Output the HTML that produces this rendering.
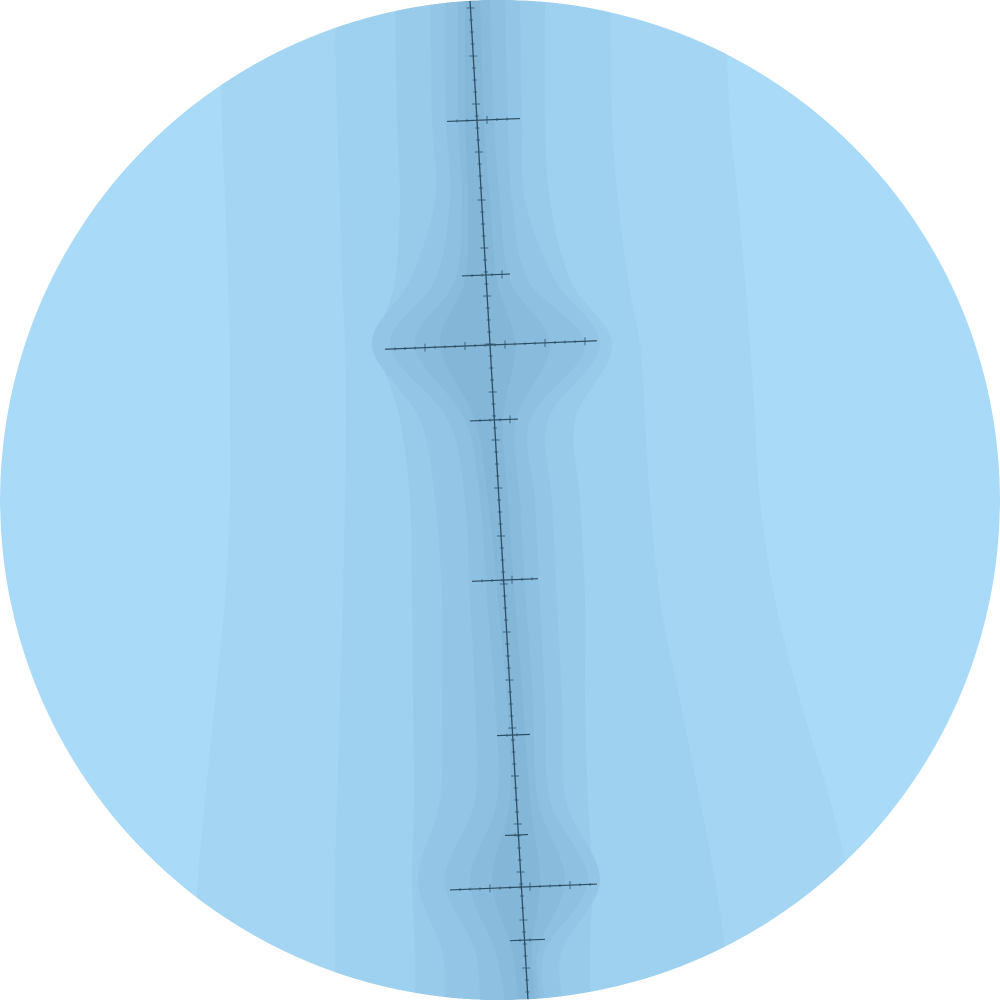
<!DOCTYPE html>
<html><head><meta charset="utf-8"><style>html,body{margin:0;padding:0;background:#fff;width:1000px;height:1000px;overflow:hidden}</style></head>
<body>
<svg id="chart" width="1000" height="1000" viewBox="0 0 1000 1000" xmlns="http://www.w3.org/2000/svg">
<defs><clipPath id="disc"><circle cx="500" cy="500" r="500"/></clipPath></defs>
<g clip-path="url(#disc)" id="bands">
<circle cx="500" cy="500" r="500" fill="#a9daf8"/>
</g>
<g clip-path="url(#disc)" id="spine"></g>
</svg>
<script>
const ys=[0,120,200,280,345,420,500,600,700,800,880,950,1000];
const bandLeft=[
 [220,222,225,228,230,230,230,225,215,205,198,195,195],
 [335,337,340,342,345,346,345,343,340,337,335,335,335],
 [395,397,400,395,380,400,410,412,413,414,412,415,415],
 [430,432,435,410,372,420,435,442,442,440,418,442,445],
 [445,446,450,435,390,448,465,470,475,475,445,475,480],
 [458,458,462,455,415,465,480,487,495,497,470,495,505],
 [465,465,468,465,440,475,488,498,507,510,492,512,518]
];
const bandRight=[
 [725,730,738,745,750,755,760,775,800,830,850,870,880],
 [610,612,618,628,640,645,650,660,680,700,715,725,730],
 [545,545,550,570,612,575,580,585,585,588,592,590,590],
 [520,522,525,555,600,548,552,557,562,566,600,562,562],
 [505,508,512,528,585,530,535,540,545,550,588,545,545],
 [490,494,500,510,550,516,520,526,533,538,565,538,540],
 [480,484,490,497,515,503,508,515,523,530,540,532,535]
];
const bandColor=['#a4d5f3','#9ed0ef','#98cbea','#93c6e6','#8ec1e1','#89bcdc','#84b7d7'];
const crossY=[120,275,345,420,580,735,835,887,940];
const crossL=[447,462,385,470,472,497,505,450,510];
const crossR=[520,510,597,518,538,530,528,597,545];
const NS='http://www.w3.org/2000/svg';
const bands=document.getElementById('bands'), spine=document.getElementById('spine');
function cx(y){return 470+0.058*y;}
function smooth(pts){
  let d='';
  for(let i=0;i<pts.length-1;i++){
    const p0=pts[Math.max(0,i-1)],p1=pts[i],p2=pts[i+1],p3=pts[Math.min(pts.length-1,i+2)];
    const c1=[p1[0]+(p2[0]-p0[0])/6,p1[1]+(p2[1]-p0[1])/6];
    const c2=[p2[0]-(p3[0]-p1[0])/6,p2[1]-(p3[1]-p1[1])/6];
    d+=' C'+c1.join(',')+' '+c2.join(',')+' '+p2.join(',');
  }
  return d;
}
bandLeft.forEach((L,i)=>{
  const R=bandRight[i];
  const lp=L.map((x,k)=>[x,ys[k]]);
  const rp=R.map((x,k)=>[x,ys[k]]).reverse();
  let d='M'+lp[0].join(',')+smooth(lp)+' L'+rp[0].join(',')+smooth(rp)+' Z';
  const p=document.createElementNS(NS,'path');
  p.setAttribute('d',d);p.setAttribute('fill',bandColor[i]);
  
  
  bands.appendChild(p);
});
const ml=document.createElementNS(NS,'line');
ml.setAttribute('x1',cx(0));ml.setAttribute('y1',0);ml.setAttribute('x2',cx(1000));ml.setAttribute('y2',1000);
ml.setAttribute('stroke','#2c4f66');ml.setAttribute('stroke-width','1.3');


spine.appendChild(ml);
for(let y=8;y<1000;y+=12){
  const t=document.createElementNS(NS,'line');const x=cx(y);const w=(y%48<12)?4:2;
  t.setAttribute('x1',x-w);t.setAttribute('x2',x+w);t.setAttribute('y1',y);t.setAttribute('y2',y);
  t.setAttribute('stroke','#2c4f66');t.setAttribute('stroke-width','0.8');
  
  
  spine.appendChild(t);
}
crossY.forEach((y,i)=>{
  const l=document.createElementNS(NS,'line');
  const w=crossR[i]-crossL[i];
  l.setAttribute('x1',crossL[i]);l.setAttribute('x2',crossR[i]);
  l.setAttribute('y1',y+w/50);l.setAttribute('y2',y-w/50);
  l.setAttribute('stroke','#2c4f66');l.setAttribute('stroke-width','1.2');
  
  
  spine.appendChild(l);
  for(let x=crossL[i]+10;x<crossR[i]-5;x+=10){
    const t=document.createElementNS(NS,'line');
    const h=((x-crossL[i])%40<10)?4:1.5;
    const yy=y+w/50-(x-crossL[i])*2*w/50/w;
    t.setAttribute('x1',x);t.setAttribute('x2',x);t.setAttribute('y1',yy-h);t.setAttribute('y2',yy+h);
    t.setAttribute('stroke','#2c4f66');t.setAttribute('stroke-width','0.8');
    
    
    spine.appendChild(t);
  }
});
</script>
</body></html>
